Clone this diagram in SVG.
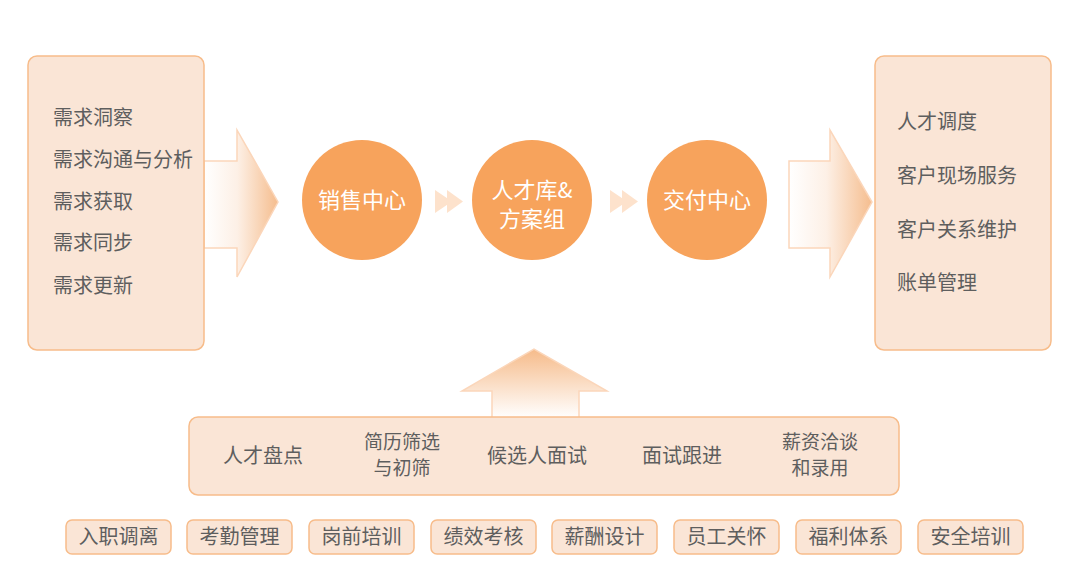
<svg xmlns="http://www.w3.org/2000/svg" width="1080" height="588" viewBox="0 0 1080 588">
<defs>
<linearGradient id="gH" x1="0" y1="0" x2="1" y2="0">
<stop offset="0" stop-color="#ffffff"/>
<stop offset="0.45" stop-color="#fdf0e6"/>
<stop offset="1" stop-color="#f5bd8e"/>
</linearGradient>
<linearGradient id="gV" x1="0" y1="0" x2="0" y2="1">
<stop offset="0" stop-color="#f6bb8a"/>
<stop offset="1" stop-color="#ffffff"/>
</linearGradient>
<style>
.box{fill:#fae5d6;stroke:#f7bc8a;stroke-width:1.5}
.tag{fill:#fae5d6;stroke:#f7bc8a;stroke-width:1.5}
.t{font-family:"Noto Sans CJK SC","Noto Sans",sans-serif;font-size:20px;fill:#5e5e5e}
.s{font-size:19px}
.c{text-anchor:middle}
.w{font-family:"Noto Sans CJK SC","Noto Sans",sans-serif;font-size:22px;fill:#ffffff;text-anchor:middle}
.circ{fill:#f7a35c}
.arr{stroke:#fbd6ba;stroke-width:1.5}
.chev{fill:#fde2cc}
</style>
</defs>
<rect width="1080" height="588" fill="#ffffff"/>

<g id="connectors">
<path class="arr" fill="url(#gH)" d="M204,161 H237 V130 L278,202 L237,277 V248 H204 Z"/>
<path class="arr" fill="url(#gH)" d="M789,161 H830 V130 L872,202 L830,277 V248 H789 Z"/>
<path class="arr" fill="url(#gV)" d="M492,418 V391 H462 L534,349 L607,391 H579 V418 Z"/>
<g class="chev">
<polygon points="435,190 452,201.5 435,213"/>
<polygon points="447,190 463,201.5 447,213"/>
<polygon points="610,190 627,201.5 610,213"/>
<polygon points="622,190 638,201.5 622,213"/>
</g>
</g>

<g id="demand">
<rect class="box" x="28" y="56" width="176" height="294" rx="9"/>
<text class="t" x="53" y="125">需求洞察</text>
<text class="t" x="53" y="167">需求沟通与分析</text>
<text class="t" x="53" y="209">需求获取</text>
<text class="t" x="53" y="250">需求同步</text>
<text class="t" x="53" y="293">需求更新</text>
</g>

<g id="sales">
<circle class="circ" cx="362" cy="200" r="60"/>
<text class="w" x="362" y="208">销售中心</text>
</g>
<g id="talent">
<circle class="circ" cx="532" cy="200" r="60"/>
<text class="w" x="532" y="198">人才库&amp;</text>
<text class="w" x="532" y="227">方案组</text>
</g>
<g id="delivery">
<circle class="circ" cx="707" cy="200" r="60"/>
<text class="w" x="707" y="208">交付中心</text>
</g>

<g id="service">
<rect class="box" x="875" y="56" width="176" height="294" rx="9"/>
<text class="t" x="897" y="129">人才调度</text>
<text class="t" x="897" y="183">客户现场服务</text>
<text class="t" x="897" y="237">客户关系维护</text>
<text class="t" x="897" y="290">账单管理</text>
</g>

<g id="recruit">
<rect class="box" x="189" y="417" width="710" height="78" rx="9"/>
<text class="t c" x="263" y="463">人才盘点</text>
<text class="t s c" x="402" y="449">简历筛选</text>
<text class="t s c" x="402" y="475">与初筛</text>
<text class="t c" x="537" y="463">候选人面试</text>
<text class="t c" x="682" y="463">面试跟进</text>
<text class="t s c" x="820" y="449">薪资洽谈</text>
<text class="t s c" x="820" y="475">和录用</text>
</g>

<g id="tag1"><rect class="tag" x="66" y="520" width="105" height="34" rx="6"/><text class="t c" x="118.5" y="544">入职调离</text></g>
<g id="tag2"><rect class="tag" x="187" y="520" width="105" height="34" rx="6"/><text class="t c" x="239.5" y="544">考勤管理</text></g>
<g id="tag3"><rect class="tag" x="309" y="520" width="105" height="34" rx="6"/><text class="t c" x="361.5" y="544">岗前培训</text></g>
<g id="tag4"><rect class="tag" x="431" y="520" width="105" height="34" rx="6"/><text class="t c" x="483.5" y="544">绩效考核</text></g>
<g id="tag5"><rect class="tag" x="552" y="520" width="105" height="34" rx="6"/><text class="t c" x="604.5" y="544">薪酬设计</text></g>
<g id="tag6"><rect class="tag" x="674" y="520" width="105" height="34" rx="6"/><text class="t c" x="726.5" y="544">员工关怀</text></g>
<g id="tag7"><rect class="tag" x="796" y="520" width="105" height="34" rx="6"/><text class="t c" x="848.5" y="544">福利体系</text></g>
<g id="tag8"><rect class="tag" x="918" y="520" width="105" height="34" rx="6"/><text class="t c" x="970.5" y="544">安全培训</text></g>
</svg>
